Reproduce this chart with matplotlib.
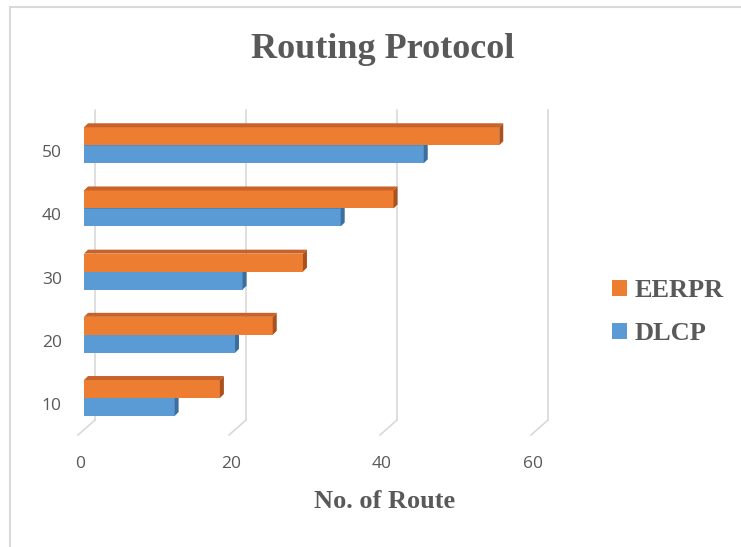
import matplotlib
matplotlib.use('Agg')
import matplotlib.pyplot as plt
from matplotlib.patches import Polygon, Rectangle, Patch
from matplotlib.transforms import ScaledTranslation

# data
nodes = ['10', '20', '30', '40', '50']
dlcp = [12, 20, 21, 34, 45]
eerpr = [18, 25, 29, 41, 55]
xticks = [0, 20, 40, 60]

orange = '#ED7D31'
orange_top = '#C8622A'
orange_side = '#A9521F'
blue = '#5B9BD5'
blue_side = '#3C6E9E'
grid_col = '#d9d9d9'
text_col = '#595959'

W, H = 741, 547
fig = plt.figure(figsize=(W / 100, H / 100), dpi=100)
ax = fig.add_axes([84 / W, (H - 430) / H, 453 / W, 310 / H])
ymin, ymax = -0.506, 4.40
ax.set_xlim(0, 60)
ax.set_ylim(ymin, ymax)
for s in ax.spines.values():
    s.set_visible(False)

# pixel -> data units (axes size is fixed)
px_x = 60 / 453
px_y = (ymax - ymin) / 310

# back wall gridlines and floor diagonals
for v in xticks:
    ax.plot([v + 11 * px_x, v + 11 * px_x], [ymin + 10 * px_y, ymax + 10 * px_y],
            color=grid_col, lw=1.2, zorder=1, clip_on=False)
    ax.plot([v - 6 * px_x, v + 11 * px_x], [ymin - 5 * px_y, ymin + 10 * px_y],
            color=grid_col, lw=1.2, zorder=1, clip_on=False)

bar_h = 18 * px_y
dx, dy = 4 * px_x, 4 * px_y


def bar3d(v, yc, front, top, side):
    y0, y1 = yc - bar_h / 2, yc + bar_h / 2
    ax.barh(yc, v, height=bar_h, color=front, zorder=3, linewidth=0)
    ax.add_patch(Polygon([(0, y1), (v, y1), (v + dx, y1 + dy), (dx, y1 + dy)],
                         closed=True, facecolor=top, edgecolor='none', zorder=3))
    ax.add_patch(Polygon([(v, y0), (v + dx, y0 + dy), (v + dx, y1 + dy), (v, y1)],
                         closed=True, facecolor=side, edgecolor='none', zorder=3))


for i in range(len(nodes)):
    bar3d(dlcp[i], i - bar_h / 2, blue, blue_side, blue_side)
    bar3d(eerpr[i], i + bar_h / 2, orange, orange_top, orange_side)

ax.set_xticks(xticks)
ax.set_xticklabels([str(t) for t in xticks])
ax.set_yticks(range(len(nodes)))
ax.set_yticklabels(nodes)
ax.tick_params(length=0, colors=text_col, labelsize=12.5)
ax.tick_params(axis='x', pad=19)
ax.tick_params(axis='y', pad=16)
for lab in ax.get_xticklabels():
    lab.set_fontfamily('Open Sans')
    lab.set_transform(lab.get_transform() + ScaledTranslation(-0.04, 0, fig.dpi_scale_trans))
for lab in ax.get_yticklabels():
    lab.set_fontfamily('Open Sans')
    lab.set_transform(lab.get_transform() + ScaledTranslation(0, -0.06, fig.dpi_scale_trans))

fig.text(383 / W, 1 - 50 / H, 'Routing Protocol', ha='center', va='center',
         fontsize=26, fontweight='bold', family='Liberation Serif', color=text_col)
fig.text(385 / W, 1 - 502 / H, 'No. of Route', ha='center', va='center',
         fontsize=19, fontweight='bold', family='Liberation Serif', color=text_col)

handles = [Patch(facecolor=orange, label='EERPR'), Patch(facecolor=blue, label='DLCP')]
fig.legend(handles=handles, loc='center left', bbox_to_anchor=(612 / W, 1 - 312 / H),
           frameon=False, borderpad=0, borderaxespad=0, handlelength=0.55,
           handleheight=0.55, handletextpad=0.3, labelspacing=0.75,
           prop={'family': 'Liberation Serif', 'weight': 'bold', 'size': 19},
           labelcolor=text_col)

# outer chart frame
fig.patches.append(Rectangle((10 / W, -0.1), 1.2, (H - 7) / H + 0.1, transform=fig.transFigure,
                             fill=False, edgecolor=grid_col, lw=1.5))

fig.savefig('out.png', dpi=100)
